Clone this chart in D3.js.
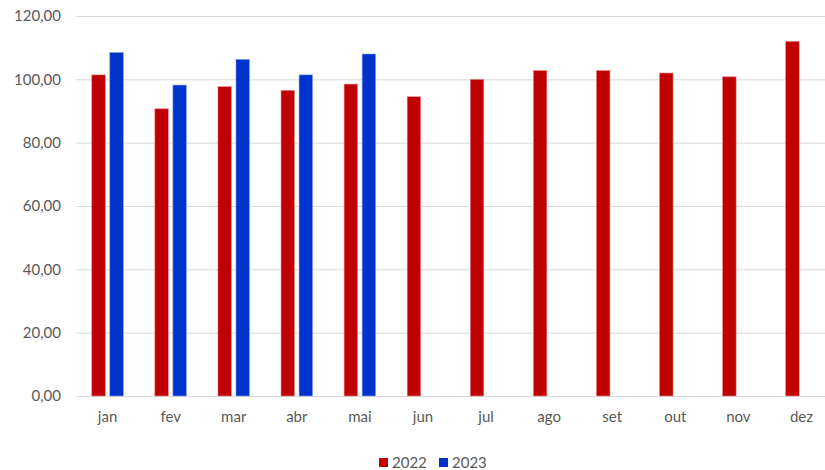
<!DOCTYPE html>
<html>
<head>
<meta charset="utf-8">
<script src="https://cdn.jsdelivr.net/npm/d3@7"></script>
<style>
  body { margin: 0; background: #fff; }
  svg text { font-family: Lato, "Open Sans", sans-serif; fill: #595959; }
</style>
</head>
<body>
<div id="chart"></div>
<script>
const months = ['jan', 'fev', 'mar', 'abr', 'mai', 'jun', 'jul', 'ago', 'set', 'out', 'nov', 'dez'];
const series = ['2022', '2023'];
const values2022 = [101.4, 90.7, 97.7, 96.5, 98.5, 94.5, 100.0, 102.8, 102.8, 102.0, 100.8, 112.0];
const values2023 = [108.5, 98.2, 106.3, 101.4, 108.0];
const yTicks = [0, 20, 40, 60, 80, 100, 120];
const colors = { '2022': '#C00000', '2023': '#0033CC' };

let width = 825, height = 470;
// plot area runs a little past the right edge, like the original export
let margin = {top: 16, right: -8, bottom: 74, left: 76};

let svg = d3.select("#chart").append("svg")
    .attr("width", width)
    .attr("height", height);

let x = d3.scaleBand()
    .domain(months)
    .range([margin.left, width - margin.right])
    .paddingInner(0.5)
    .paddingOuter(0.25);

let xSub = d3.scaleBand()
    .domain(series)
    .range([0, x.bandwidth()])
    .paddingInner(0.25);

let y = d3.scaleLinear()
    .domain([0, 120])
    .range([height - margin.bottom, margin.top]);

// gridlines + tick labels
let yAxis = d3.axisLeft(y)
    .tickValues(yTicks)
    .tickSize(-(width - margin.right - margin.left))
    .tickPadding(15)
    .tickFormat(d => d3.format(".2f")(d).replace(".", ","));

svg.append("g")
    .attr("transform", `translate(${margin.left},0)`)
    .call(yAxis)
    .call(g => g.select(".domain").remove())
    .call(g => g.selectAll(".tick line").attr("stroke", "#d9d9d9").attr("stroke-width", 1))
    .call(g => g.selectAll(".tick text").style("font-size", "15px").attr("fill", "#595959"));

let xAxis = d3.axisBottom(x).tickSize(0).tickPadding(15);

svg.append("g")
    .attr("transform", `translate(0,${y(0)})`)
    .call(xAxis)
    .call(g => g.select(".domain").attr("stroke", "#d9d9d9"))
    .call(g => g.selectAll(".tick text").style("font-size", "15px").attr("fill", "#595959"));

// bars
let data = [];
months.forEach((m, i) => {
    data.push({month: m, year: '2022', value: values2022[i]});
    if (values2023[i] !== undefined) data.push({month: m, year: '2023', value: values2023[i]});
});

svg.append("g")
    .selectAll("rect")
    .data(data)
    .join("rect")
    .attr("x", d => x(d.month) + xSub(d.year))
    .attr("y", d => y(d.value))
    .attr("width", xSub.bandwidth())
    .attr("height", d => y(0) - y(d.value))
    .attr("fill", d => colors[d.year])
    .attr("stroke", d => d.year === '2022' ? '#e58a8a' : '#8aa2ee')
    .attr("stroke-width", 0.6);

// legend
let legend = svg.append("g").attr("transform", "translate(379,458)");
series.forEach((s, i) => {
    let g = legend.append("g").attr("transform", `translate(${i * 60},0)`);
    g.append("rect")
        .attr("width", 9)
        .attr("height", 9)
        .attr("fill", colors[s]);
    g.append("text")
        .attr("x", 13)
        .attr("y", 4.5)
        .attr("dy", "0.35em")
        .style("font-size", "15px")
        .text(s);
});
</script>
</body>
</html>
